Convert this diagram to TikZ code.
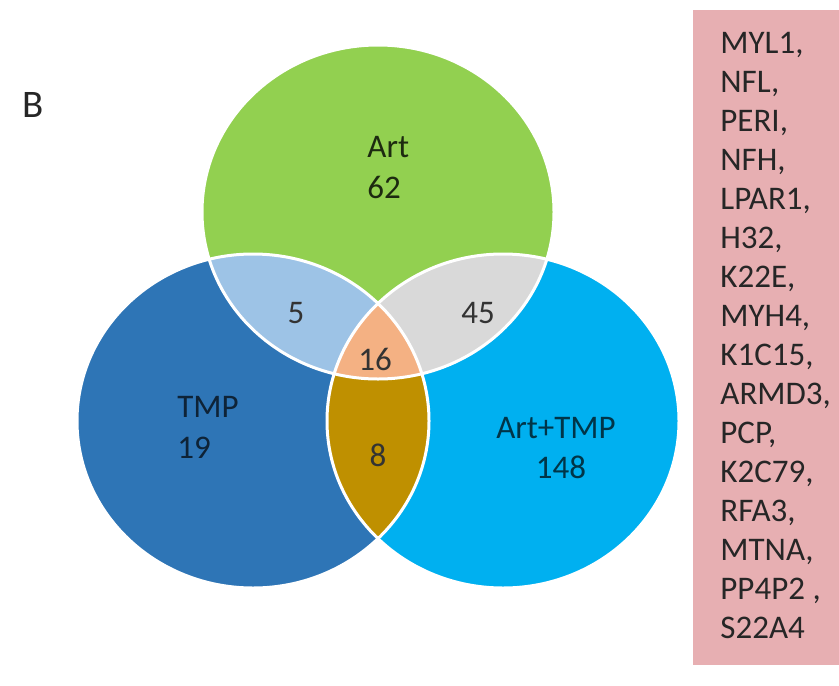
\documentclass[tikz,border=0pt]{standalone}
\usepackage{fontspec}
\setmainfont{Carlito}
\usetikzlibrary{positioning}
\definecolor{artGreen}{RGB}{146,208,80}
\definecolor{tmpBlue}{RGB}{46,117,182}
\definecolor{comboBlue}{RGB}{0,176,240}
\definecolor{artTmpFill}{RGB}{157,195,230}
\definecolor{artComboFill}{RGB}{217,217,217}
\definecolor{allThreeFill}{RGB}{244,177,131}
\definecolor{tmpComboFill}{RGB}{191,144,0}
\definecolor{listPink}{RGB}{231,175,178}
\tikzset{
    setLabel/.style={inner sep=0pt, font=\fontsize{16.5}{20}\selectfont},
    countLabel/.style={setLabel, anchor=base, text=black!80},
    geneText/.style={inner sep=0pt, anchor=base west, text=black!85, font=\fontsize{16.5}{20}\selectfont},
    setEdge/.style={draw=white, line width=1.5pt},
}
\newcommand{\pathArt}{(378,212) ellipse [x radius=176, y radius=167]}
\newcommand{\pathTmp}{(253,421) ellipse [x radius=176, y radius=167]}
\newcommand{\pathCombo}{(503,421) ellipse [x radius=176, y radius=167]}

\begin{document}
\begin{tikzpicture}[x=0.5pt, y=-0.5pt]
    \useasboundingbox (0,0) rectangle (839,685);

    % the three sets
    \fill[artGreen] \pathArt;
    \fill[tmpBlue] \pathTmp;
    \fill[comboBlue] \pathCombo;
    \begin{scope}
        \clip \pathArt;
        \fill[artTmpFill] \pathTmp;
        \fill[artComboFill] \pathCombo;
    \end{scope}
    \begin{scope}
        \clip \pathTmp;
        \fill[tmpComboFill] \pathCombo;
        \clip \pathCombo;
        \fill[allThreeFill] \pathArt;
    \end{scope}
    \path[setEdge] \pathArt;
    \path[setEdge] \pathTmp;
    \path[setEdge] \pathCombo;

    \node[setLabel, anchor=base west, text=black!85, font=\fontsize{19.5}{23}\selectfont] (panel) at (22,117) {B};

    \node[setLabel, anchor=base west, text=artGreen!20!black] (artName) at (367,157) {Art};
    \node[setLabel, anchor=base west, text=artGreen!20!black] (artCount) at (367,198) {62};
    \node[setLabel, anchor=base west, text=tmpBlue!30!black] (tmpName) at (177,417) {TMP};
    \node[setLabel, anchor=base west, text=tmpBlue!30!black] (tmpCount) at (177,458) {19};
    \node[setLabel, anchor=base, text=comboBlue!30!black] (comboName) at (556,438) {Art+TMP};
    \node[setLabel, anchor=base, text=comboBlue!30!black] (comboCount) at (561,478) {148};

    \node[countLabel] (artTmp) at (296,323) {5};
    \node[countLabel] (artCombo) at (478,323) {45};
    \node[countLabel] (allThree) at (375,370) {16};
    \node[countLabel] (tmpCombo) at (378,466) {8};

    % shared gene list
    \fill[listPink] (693,10) rectangle (839,665);
    \foreach \gene [count=\k from 0] in {{MYL1,}, {NFL,}, {PERI,}, {NFH,}, {LPAR1,}, {H32,}, {K22E,}, {MYH4,}, {K1C15,}, {ARMD3,}, {PCP,}, {K2C79,}, {RFA3,}, {MTNA,}, {PP4P2 ,}, {S22A4}}
        \node[geneText] (gene\k) at (720,{53+39*\k}) {\gene};

\end{tikzpicture}
\end{document}
